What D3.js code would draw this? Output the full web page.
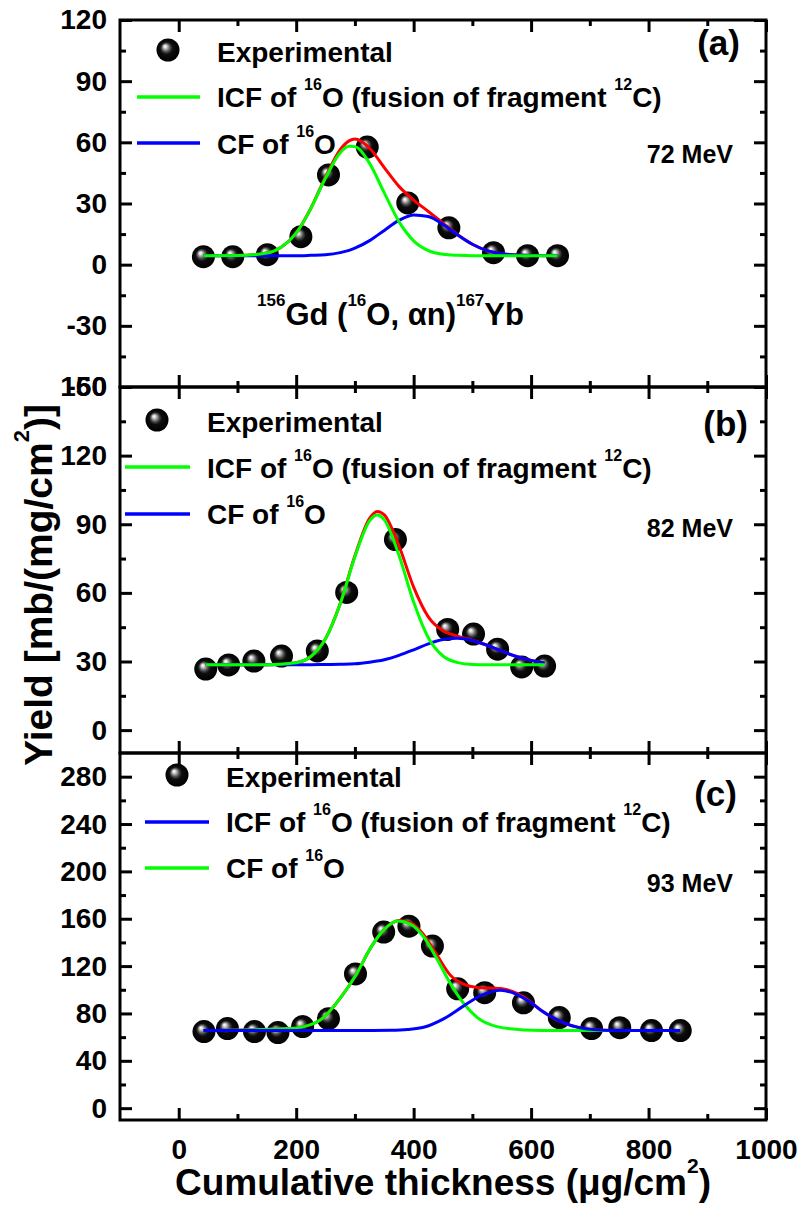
<!DOCTYPE html>
<html lang="en">
<head>
<meta charset="utf-8">
<title>Yield vs cumulative thickness</title>
<script src="https://cdn.jsdelivr.net/npm/d3@7"></script>
<style>
  body { margin: 0; background: #fff; }
  text { font-family: "Liberation Sans", Arial, sans-serif; font-weight: bold; fill: #000; }
  .axis line { stroke: #000; stroke-width: 3; }
  .axis path { display: none; }
  .axis text { font-size: 28px; font-family: "Liberation Sans", Arial, sans-serif; font-weight: bold; }
</style>
</head>
<body>
<div id="chart"></div>
<script>
// values
var xTicks = [0, 200, 400, 600, 800, 1000]

// (a) 72 MeV
var aTicks = [-60, -30, 0, 30, 60, 90, 120]
var aExpX = [42, 92, 151, 208, 255, 321, 390, 460, 536, 594, 645]
var aExpY = [3.9, 3.9, 4.9, 13.7, 44, 57.7, 30.3, 18.1, 5.9, 4.4, 4.4]
var aFitX = [42, 100, 150, 175, 200, 225, 250, 275, 290, 300, 325, 350, 375, 400, 425, 450, 475, 500, 525, 550, 575, 600, 645]
var aIcfY = [4.4, 4.5, 5.7, 8.7, 15.5, 27.5, 42.5, 54.9, 58.1, 57.9, 49.7, 35.2, 21.1, 11.7, 6.9, 5.1, 4.6, 4.4, 4.4, 4.4, 4.4, 4.4, 4.4]
var aCfY  = [4.4, 4.4, 4.4, 4.4, 4.4, 4.6, 4.9, 5.9, 7.0, 8.1, 11.8, 16.8, 21.7, 24.4, 23.6, 19.7, 14.5, 10.0, 6.9, 5.4, 4.7, 4.5, 4.4]
var aSumY = [4.4, 4.5, 5.7, 8.7, 15.5, 27.7, 43.0, 56.4, 60.7, 61.6, 57.1, 47.6, 38.4, 31.7, 26.1, 20.4, 14.7, 10.0, 6.9, 5.4, 4.7, 4.5, 4.4]

// (b) 82 MeV
var bTicks = [0, 30, 60, 90, 120, 150]
var bExpX = [46, 85, 128, 175, 236, 286, 369, 458, 502, 543, 584, 623]
var bExpY = [26.7, 28.5, 30.2, 32.4, 34.6, 60.2, 83.3, 44, 42, 35.4, 27.6, 28]
var bFitX = [46, 100, 150, 200, 225, 250, 275, 300, 325, 338, 350, 375, 400, 425, 450, 475, 500, 525, 550, 575, 600, 623]
var bIcfY = [28.6, 28.6, 28.6, 29.5, 32.2, 39.9, 55.2, 75.8, 91.5, 94.0, 91.9, 76.5, 56.0, 40.4, 32.4, 29.5, 28.7, 28.6, 28.6, 28.6, 28.6, 28.6]
var bCfY  = [28.6, 28.6, 28.6, 28.6, 28.6, 28.7, 28.8, 29.0, 29.7, 30.2, 30.8, 32.7, 35.1, 37.7, 39.6, 40.2, 39.2, 37.1, 34.5, 32.2, 30.5, 29.4]
var bSumY = [28.6, 28.6, 28.6, 29.5, 32.2, 40.0, 55.4, 76.2, 92.6, 95.6, 94.1, 80.6, 62.5, 49.5, 43.4, 41.1, 39.3, 37.1, 34.5, 32.2, 30.5, 29.4]

// (c) 93 MeV
var cTicks = [0, 40, 80, 120, 160, 200, 240, 280]
var cExpX = [43, 83, 129, 169, 211, 255, 301, 349, 392, 432, 475, 521, 587, 648, 703, 751, 805, 854]
var cExpY = [64.7, 67.2, 64.7, 63.9, 68.9, 75.6, 113.4, 148.7, 153.7, 136.9, 100.8, 97.5, 89, 76.5, 67.2, 68, 65.5, 65.5]
var cCfX  = [42, 179, 213, 247, 276, 301, 327, 350, 373, 395, 418, 440, 463, 486, 508, 542, 588, 650, 854]
var cCfY  = [65.5, 67, 68.9, 76.7, 93.5, 111.8, 135.6, 151, 158, 155.2, 144, 125.8, 104.8, 88, 76.7, 68.9, 66.1, 65.5, 65.5]
var cIcfX = [42, 300, 361, 390, 417, 451, 486, 514, 548, 576, 600, 616, 650, 684, 723, 760, 854]
var cIcfY = [65.5, 65.5, 65.8, 66.5, 68.3, 75.4, 86.6, 95, 99.7, 96, 89, 83, 73.4, 67.8, 65.8, 65.5, 65.5]
var cSumX = [42, 179, 213, 247, 276, 301, 327, 350, 376, 395, 418, 440, 463, 486, 508, 548, 576, 600, 616, 650, 684, 723, 760, 854]
var cSumY = [65.5, 67, 68.9, 76.7, 93.5, 111.8, 135.6, 151, 158.6, 156.5, 146, 129, 112, 104.5, 102, 101, 97, 89.5, 83, 73.4, 67.8, 65.8, 65.5, 65.5]

var RED = "#ff0000", GREEN = "#00ff00", BLUE = "#0000ff"

function zip(xs, ys) { return xs.map(function (x, i) { return [x, ys[i]] }) }

// layout of the three stacked panels
var panels = [
  { name: "(a)", energy: "72 MeV", top: 20, bottom: 387, domain: [-60, 120], ticks: aTicks, minor: 15,
    pts: zip(aExpX, aExpY),
    lines: [[zip(aFitX, aSumY), RED], [zip(aFitX, aCfY), BLUE], [zip(aFitX, aIcfY), GREEN]],
    legend: { mx: 168, my: 50, tx: 217, ty: [62, 107, 154], lx: [137, 200], ly: [97, 143], colors: [GREEN, BLUE] },
    nameX: 740, nameY: 55, enY: 163 },
  { name: "(b)", energy: "82 MeV", top: 387, bottom: 753, domain: [-10, 150], ticks: bTicks, minor: 15,
    pts: zip(bExpX, bExpY),
    lines: [[zip(bFitX, bSumY), RED], [zip(bFitX, bCfY), BLUE], [zip(bFitX, bIcfY), GREEN]],
    legend: { mx: 157, my: 420, tx: 207, ty: [432, 478, 524], lx: [125, 190], ly: [467, 514], colors: [GREEN, BLUE] },
    nameX: 748, nameY: 436, enY: 537 },
  { name: "(c)", energy: "93 MeV", top: 753, bottom: 1120, domain: [-10, 300], ticks: cTicks, minor: 20,
    pts: zip(cExpX, cExpY),
    lines: [[zip(cSumX, cSumY), RED], [zip(cCfX, cCfY), GREEN], [zip(cIcfX, cIcfY), BLUE]],
    legend: { mx: 177, my: 775, tx: 226, ty: [787, 832, 878], lx: [145, 209], ly: [822, 868], colors: [BLUE, GREEN] },
    nameX: 737, nameY: 806, enY: 892 }
]

var W = 801, H = 1210, left = 120, right = 766

var svg = d3.select("#chart").append("svg")
  .attr("width", W)
  .attr("height", H)

// shiny ball marker
var grad = svg.append("defs").append("radialGradient")
  .attr("id", "ball")
  .attr("cx", "50%").attr("cy", "50%").attr("r", "50%")
  .attr("fx", "36%").attr("fy", "33%")
grad.selectAll("stop")
  .data([[0, "#ffffff"], [0.1, "#e6e6e6"], [0.24, "#9a9a9a"], [0.38, "#4a4a4a"], [0.55, "#0d0d0d"], [1, "#000"]])
  .enter().append("stop")
  .attr("offset", function (d) { return d[0] })
  .attr("stop-color", function (d) { return d[1] })

var x = d3.scaleLinear().domain([-100, 1000]).range([left, right])

// plain hyphen for negatives, like the original
var plain = function (d) { return String(d) }

// text with superscripts: parts = [[text, isSup], ...]
function rich(g, px, py, parts, size, anchor) {
  var t = g.append("text")
    .attr("x", px).attr("y", py)
    .attr("text-anchor", anchor || "start")
    .style("font-size", size + "px")
  var up = 0
  parts.forEach(function (p) {
    var s = t.append("tspan").text(p[0])
    if (p[1]) {
      s.style("font-size", Math.round(size * 0.56) + "px").attr("dy", -size * 0.6)
      up = size * 0.6
    } else if (up) {
      s.attr("dy", up)
      up = 0
    }
  })
  return t
}

var xMinor = [100, 300, 500, 700, 900]

panels.forEach(function (p, pi) {
  var g = svg.append("g")
  var y = d3.scaleLinear().domain(p.domain).range([p.bottom, p.top])
  var yMinor = p.ticks.slice(0, -1).map(function (t) { return t + p.minor })
    .filter(function (t) { return t < p.domain[1] })
  if (p.ticks[0] - p.minor > p.domain[0]) yMinor.unshift(p.ticks[0] - p.minor)

  // experimental points
  g.selectAll("circle.exp")
    .data(p.pts)
    .enter().append("circle")
    .attr("class", "exp")
    .attr("cx", function (d) { return x(d[0]) })
    .attr("cy", function (d) { return y(d[1]) })
    .attr("r", 11.5)
    .style("fill", "url(#ball)")

  // fitted curves
  var line = d3.line()
    .x(function (d) { return x(d[0]) })
    .y(function (d) { return y(d[1]) })
    .curve(d3.curveMonotoneX)
  p.lines.forEach(function (l) {
    g.append("path")
      .attr("d", line(l[0]))
      .style("fill", "none")
      .style("stroke", l[1])
      .style("stroke-width", 3)
  })

  // axes, ticks inside on all four sides
  g.append("g").attr("class", "axis")
    .attr("transform", "translate(" + left + ",0)")
    .call(d3.axisLeft(y).tickValues(p.ticks).tickSize(-12).tickPadding(13).tickFormat(plain))
  g.append("g").attr("class", "axis")
    .attr("transform", "translate(" + left + ",0)")
    .call(d3.axisLeft(y).tickValues(yMinor).tickSize(-6).tickFormat(""))
  g.append("g").attr("class", "axis")
    .attr("transform", "translate(" + right + ",0)")
    .call(d3.axisRight(y).tickValues(p.ticks).tickSize(-12).tickFormat(""))
  g.append("g").attr("class", "axis")
    .attr("transform", "translate(" + right + ",0)")
    .call(d3.axisRight(y).tickValues(yMinor).tickSize(-6).tickFormat(""))

  g.append("g").attr("class", "axis")
    .attr("transform", "translate(0," + p.top + ")")
    .call(d3.axisTop(x).tickValues(xTicks).tickSize(-12).tickFormat(""))
  g.append("g").attr("class", "axis")
    .attr("transform", "translate(0," + p.top + ")")
    .call(d3.axisTop(x).tickValues(xMinor).tickSize(-6).tickFormat(""))
  g.append("g").attr("class", "axis")
    .attr("transform", "translate(0," + p.bottom + ")")
    .call(d3.axisBottom(x).tickValues(xTicks).tickSize(-12).tickPadding(19)
      .tickFormat(pi === 2 ? plain : ""))
  g.append("g").attr("class", "axis")
    .attr("transform", "translate(0," + p.bottom + ")")
    .call(d3.axisBottom(x).tickValues(xMinor).tickSize(-6).tickFormat(""))

  g.append("rect")
    .attr("x", left).attr("y", p.top)
    .attr("width", right - left).attr("height", p.bottom - p.top)
    .style("fill", "none").style("stroke", "#000").style("stroke-width", 3)

  // legend
  var L = p.legend
  g.append("circle").attr("cx", L.mx).attr("cy", L.my).attr("r", 11.5).style("fill", "url(#ball)")
  rich(g, L.tx, L.ty[0], [["Experimental"]], 28)
  rich(g, L.tx, L.ty[1], [["ICF of "], ["16", 1], ["O (fusion of fragment "], ["12", 1], ["C)"]], 28)
  rich(g, L.tx, L.ty[2], [["CF of "], ["16", 1], ["O"]], 28)
  L.ly.forEach(function (ly, i) {
    g.append("line")
      .attr("x1", L.lx[0]).attr("x2", L.lx[1])
      .attr("y1", ly).attr("y2", ly)
      .style("stroke", L.colors[i]).style("stroke-width", 3.5)
  })

  g.append("text").attr("x", p.nameX).attr("y", p.nameY)
    .attr("text-anchor", "end").style("font-size", "35px").text(p.name)
  g.append("text").attr("x", 733).attr("y", p.enY)
    .attr("text-anchor", "end").style("font-size", "25px").text(p.energy)
})

// the (a) bottom label sits over the (b) top label
svg.selectAll("g.axis text")
  .filter(function (d) { return d === -60 })
  .style("stroke", "#fff").style("stroke-width", 3).style("paint-order", "stroke")
  .each(function () { this.parentNode.parentNode.parentNode.appendChild(this.parentNode.parentNode) })

rich(svg, 257, 325, [["156", 1], ["Gd ("], ["16", 1], ["O, \u03b1n)"], ["167", 1], ["Yb"]], 31)

rich(svg, 443, 1195, [["Cumulative thickness (\u03bcg/cm"], ["2", 1], [")"]], 37, "middle")

rich(svg, 0, 0, [["Yield [mb/(mg/cm"], ["2", 1], [")]"]], 39, "middle")
  .attr("transform", "translate(52,585) rotate(-90)")
</script>
</body>
</html>
